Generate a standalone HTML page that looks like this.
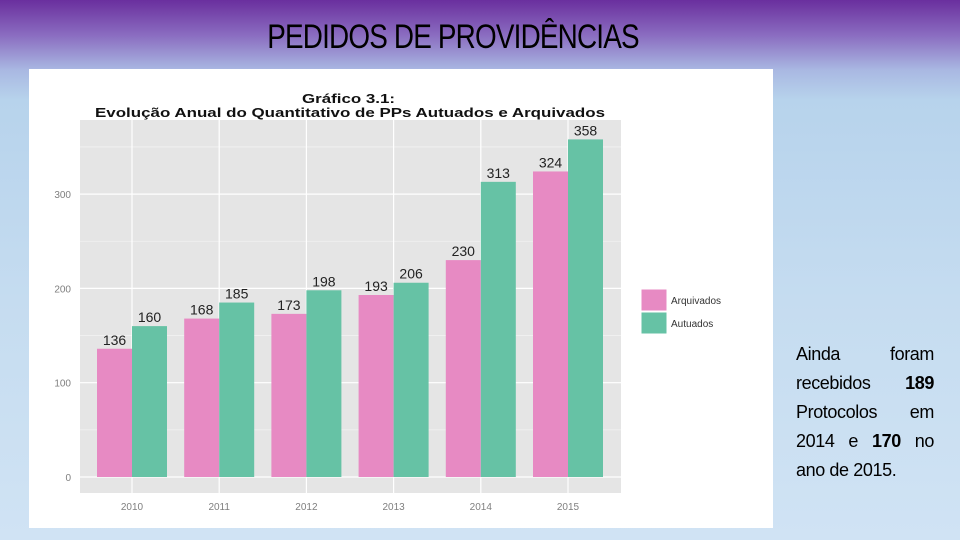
<!DOCTYPE html>
<html><head><meta charset="utf-8"><style>
body{margin:0;width:960px;height:540px;overflow:hidden;font-family:"Liberation Sans",sans-serif;
background:linear-gradient(180deg,#6a2f9e 0px,#8a6cc0 35px,#a9b8e2 70px,#b7d3ec 100px,#c5dcf0 300px,#d0e3f4 540px);position:relative}
#title{position:absolute;left:0;width:906px;top:18px;text-align:center;font-family:"Liberation Sans Narrow","Liberation Sans",sans-serif;font-size:34px;color:#000;transform:scaleX(0.82);letter-spacing:-1px}
#card{position:absolute;left:29px;top:69px;width:744px;height:459px;background:#fff}
#note{position:absolute;left:796px;top:340px;width:138px;font-size:18px;letter-spacing:-0.4px;line-height:29px;color:#000;text-align:justify}
</style></head><body>
<div id="title">PEDIDOS DE PROVIDÊNCIAS</div>
<div id="card"></div>
<svg id="chart" width="960" height="540" style="position:absolute;left:0;top:0"></svg>
<div id="note">Ainda foram recebidos <b>189</b> Protocolos em 2014 e <b>170</b> no ano de 2015.</div>
<script>
const years=["2010","2011","2012","2013","2014","2015"];
const arquivados=[136,168,173,193,230,324];
const autuados=[160,185,198,206,313,358];
const yTicks=[0,100,200,300];
const NS="http://www.w3.org/2000/svg";
const svg=document.getElementById('chart');
const px0=80,px1=621,py0=120,py1=493;
const y=v=>477-v*0.943;
const x=i=>132+i*87.2;
const bw=35;
function el(t,a,p){const e=document.createElementNS(NS,t);for(const k in a)e.setAttribute(k,a[k]);(p||svg).appendChild(e);return e;}
const panel=el('rect',{x:px0,y:py0,width:px1-px0,height:py1-py0,fill:'#e5e5e5'});


for(let v=50;v<=350;v+=100){el('line',{x1:px0,x2:px1,y1:y(v),y2:y(v),stroke:'#f2f2f2','stroke-width':0.8});}
yTicks.forEach(v=>{
 const g=el('line',{x1:px0,x2:px1,y1:y(v),y2:y(v),stroke:'#fff','stroke-width':1.2});
 
 
 const t=el('text',{x:71,y:y(v)+4,'text-anchor':'end','font-size':10,fill:'#7f7f7f'});t.textContent=v;
 
 
});
years.forEach((yr,i)=>{
 el('line',{x1:x(i),x2:x(i),y1:py0,y2:py1,stroke:'#fff','stroke-width':1.2});
 const t=el('text',{x:x(i),y:510,'text-anchor':'middle','font-size':10,fill:'#7f7f7f'});t.textContent=yr;
 
 
});
years.forEach((yr,i)=>{
 [[arquivados[i],'#e78ac3',x(i)-bw],[autuados[i],'#66c2a5',x(i)]].forEach(([v,c,bx],j)=>{
  const r=el('rect',{x:bx,y:y(v),width:bw,height:y(0)-y(v),fill:c});
  
  
  const t=el('text',{x:bx+bw/2,y:y(v)-4,'text-anchor':'middle','font-size':14,fill:'#222'});t.textContent=v;
  
  
 });
});
const t1=el('text',{x:302,y:103,'font-size':13,'font-weight':'bold',fill:'#111',textLength:93,lengthAdjust:'spacingAndGlyphs'});t1.textContent='Gráfico 3.1:';


const t2=el('text',{x:95,y:117,'font-size':13,'font-weight':'bold',fill:'#111',textLength:510,lengthAdjust:'spacingAndGlyphs'});t2.textContent='Evolução Anual do Quantitativo de PPs Autuados e Arquivados';


[['Arquivados','#e78ac3',289],['Autuados','#66c2a5',312]].forEach(([n,c,ly])=>{
 const r=el('rect',{x:641,y:ly,width:26,height:22,fill:c,stroke:'#fff'});
 
 
 const t=el('text',{x:671,y:ly+15,'font-size':10,fill:'#333'});t.textContent=n;
 
 
});
</script>
</body></html>
